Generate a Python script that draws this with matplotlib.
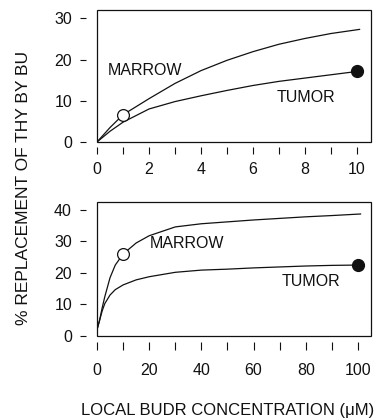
import matplotlib
matplotlib.use("Agg")
import matplotlib.pyplot as plt
from matplotlib.patches import Rectangle

plt.rcParams['font.family'] = ['Liberation Sans', 'DejaVu Sans']

# top panel: 0-10 uM
x_top = [0, 0.5, 1, 2, 3, 4, 5, 6, 7, 8, 9, 10.1]
marrow_top = [0, 3.5, 6.6, 10.5, 14.2, 17.3, 19.8, 21.9, 23.7, 25.1, 26.3, 27.3]
x_top_t = [0, 0.5, 1, 2, 3, 4, 5, 6, 7, 8, 9, 10]
tumor_top = [0, 2.6, 4.8, 8.0, 9.8, 11.2, 12.5, 13.7, 14.7, 15.5, 16.3, 17.1]
open_top = (1, 6.6)
filled_top = (10, 17.1)

# bottom panel: 0-100 uM
x_bot = [0, 1, 2, 3, 5, 7, 10, 15, 20, 30, 40, 50, 60, 70, 80, 90, 101]
marrow_bot = [2, 5, 9, 12.5, 18.5, 22.5, 26, 29.5, 31.8, 34.6, 35.6, 36.2, 36.8, 37.3, 37.8, 38.2, 38.7]
x_bot_t = [0, 1, 2, 3, 5, 7, 10, 15, 20, 30, 40, 50, 60, 70, 80, 90, 100]
tumor_bot = [2, 5, 8, 10.3, 13, 14.7, 16.2, 17.8, 18.8, 20.2, 20.9, 21.2, 21.6, 21.9, 22.2, 22.4, 22.5]
open_bot = (10, 26)
filled_bot = (100, 22.5)

xt_top = list(range(0, 11))
xl_top = [str(v) if v % 2 == 0 else '' for v in xt_top]
yt_top = [0, 10, 20, 30]
xt_bot = list(range(0, 101, 10))
xl_bot = [str(v) if v % 20 == 0 else '' for v in xt_bot]
yt_bot = [0, 10, 20, 30, 40]

W, H = 383, 418
fig = plt.figure(figsize=(W / 100, H / 100), dpi=100)


def frac(l, t, r, b):
    return [l / W, 1 - b / H, (r - l) / W, (b - t) / H]


ax1 = fig.add_axes(frac(97, 10, 371, 142))
ax2 = fig.add_axes(frac(97, 202, 371, 336))

col = '#111111'
fs = 11.5


def style(ax, xt, xl, yt, xlim, ylim, xout, xlen, xpad):
    ax.set_xlim(*xlim)
    ax.set_ylim(*ylim)
    for s in ax.spines.values():
        s.set_visible(False)
    ax.spines['left'].set_position(('outward', 8))
    ax.spines['bottom'].set_position(('outward', xout))
    ax.add_patch(Rectangle((0, 0), 1, 1, transform=ax.transAxes, fill=False,
                           lw=0.9, ec=col, clip_on=False))
    ax.set_xticks(xt)
    ax.set_xticklabels(xl)
    ax.set_yticks(yt)
    ax.tick_params(axis='y', direction='out', length=4.5, width=0.8, pad=5.5,
                   labelsize=fs, colors=col)
    ax.tick_params(axis='x', direction='out', length=xlen, width=0.8, pad=xpad,
                   labelsize=fs, colors=col)


style(ax1, xt_top, xl_top, yt_top, (0, 10.54), (0, 32), 3.6, 5, 6)
style(ax2, xt_bot, xl_bot, yt_bot, (0, 105), (0, 42.5), 4.5, 5.5, 9.5)

lw = 0.9
ax1.plot(x_top, marrow_top, color=col, lw=lw)
ax1.plot(x_top_t, tumor_top, color=col, lw=lw)
ax1.plot(*open_top, 'o', ms=8.5, mfc='white', mec=col, mew=0.9, clip_on=False)
ax1.plot(*filled_top, 'o', ms=8.5, mfc=col, mec=col, clip_on=False)
ax1.text(0.42, 17.3, 'MARROW', fontsize=11.5, va='center', color=col)
ax1.text(6.9, 10.7, 'TUMOR', fontsize=11.5, va='center', color=col)

ax2.plot(x_bot, marrow_bot, color=col, lw=lw)
ax2.plot(x_bot_t, tumor_bot, color=col, lw=lw)
ax2.plot(*open_bot, 'o', ms=8.5, mfc='white', mec=col, mew=0.9, clip_on=False)
ax2.plot(*filled_bot, 'o', ms=8.5, mfc=col, mec=col, clip_on=False)
ax2.text(20.3, 29.2, 'MARROW', fontsize=11.5, va='center', color=col)
ax2.text(70.9, 17.3, 'TUMOR', fontsize=11.5, va='center', color=col)

fig.text(24 / W, 1 - 188 / H, '% REPLACEMENT OF THY BY BU', rotation=90,
         ha='center', va='center', fontsize=12.5, color=col)
fig.text(228 / W, 1 - 410 / H, 'LOCAL BUDR CONCENTRATION (μM)',
         ha='center', va='center', fontsize=12, color=col)

fig.savefig('out.png', dpi=100)
